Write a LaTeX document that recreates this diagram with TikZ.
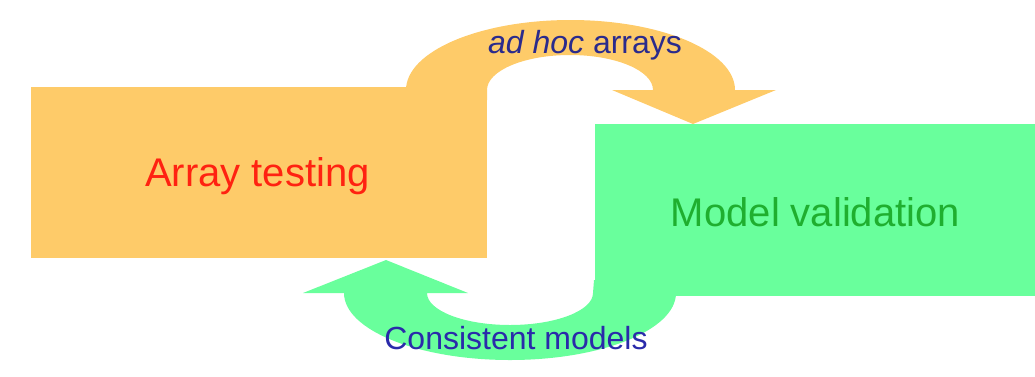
\documentclass[tikz,border=0pt]{standalone}
\usepackage{fontspec}
\setmainfont{Liberation Sans}
\definecolor{boxorange}{HTML}{FECB69}
\definecolor{boxgreen}{HTML}{69FF9C}
\definecolor{txtred}{HTML}{FF2211}
\definecolor{txtgreen}{HTML}{1FAF2F}
\definecolor{txtnavy}{HTML}{2B2B8C}
\definecolor{txtblue}{HTML}{2A2AAA}
\tikzset{
  block/.style={inner sep=0pt, outer sep=0pt},
  title/.style={anchor=base, inner sep=0pt, font=\fontsize{40}{42}\selectfont},
  lbl/.style={anchor=base, inner sep=0pt, font=\fontsize{32}{34}\selectfont},
}
\begin{document}
\begin{tikzpicture}[x=1pt,y=-1pt]
\useasboundingbox (0,0) rectangle (1035,376);
% boxes
\node[block, fill=boxorange, minimum width=456pt, minimum height=171pt] (test) at (259,172.5) {};
\node[block, fill=boxgreen, minimum width=440pt, minimum height=172pt] (valid) at (815,210) {};
\node[title, text=txtred] (testtxt) at (257.5,186) {Array testing};
\node[title, text=txtgreen] (validtxt) at (815.5,226) {Model validation};
% upper arrow (orange)
\fill[boxorange] (406,100) -- (406,90)
  arc[start angle=180, end angle=360, x radius=164.5, y radius=70]
  -- (776,90) -- (693,124) -- (612,90) -- (653,90)
  arc[start angle=0, end angle=-180, x radius=83, y radius=35]
  -- (487,100) -- cycle;
% lower arrow (green)
\fill[boxgreen] (676,280) -- (676,293)
  arc[start angle=0, end angle=180, x radius=166, y radius=67]
  -- (303,293) -- (386,260) -- (468,293) -- (427,293)
  arc[start angle=180, end angle=0, x radius=83, y radius=32]
  -- (594,280) -- cycle;
% labels
\node[lbl, text=txtnavy] (adhoc) at (585,53) {\textit{ad hoc} arrays};
\node[lbl, text=txtblue] (cons) at (516,349) {Consistent models};
\end{tikzpicture}
\end{document}
